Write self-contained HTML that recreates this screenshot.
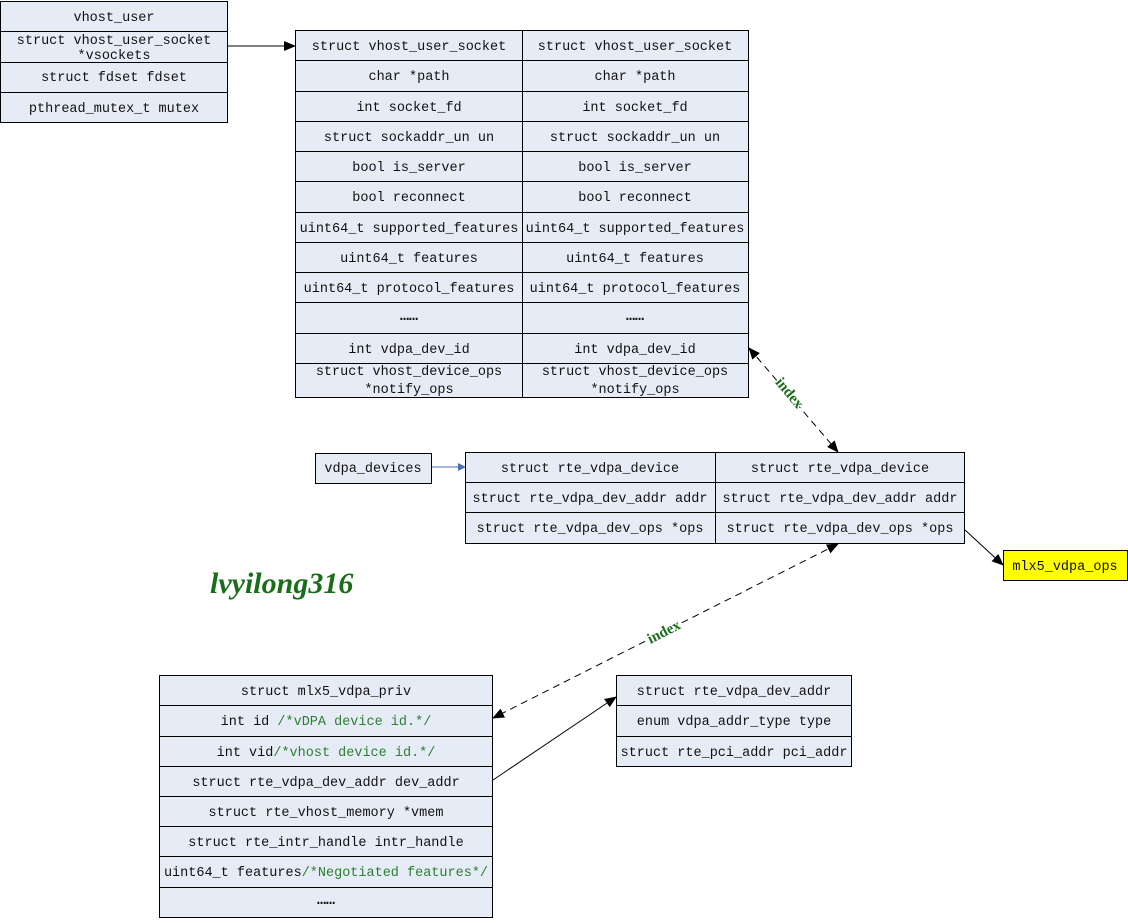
<!DOCTYPE html>
<html><head><meta charset="utf-8"><style>
html,body{margin:0;padding:0;background:#fff;}
svg text{font-family:"Liberation Mono","Noto Serif CJK SC",monospace;font-size:13.5px;fill:#111;}
svg text.dots{font-size:15px;font-weight:bold;}
</style></head><body>
<svg width="1128" height="918" viewBox="0 0 1128 918" xmlns="http://www.w3.org/2000/svg">
<defs>
<marker id="a" markerWidth="12" markerHeight="10" refX="11" refY="5" orient="auto" markerUnits="userSpaceOnUse"><path d="M0,0 L12,5 L0,10 z" fill="#000"/></marker>
<marker id="as" markerWidth="12" markerHeight="10" refX="1" refY="5" orient="auto" markerUnits="userSpaceOnUse"><path d="M12,0 L0,5 L12,10 z" fill="#000"/></marker>
<marker id="ab" markerWidth="8" markerHeight="8" refX="7" refY="4" orient="auto" markerUnits="userSpaceOnUse"><path d="M0,0 L8,4 L0,8 z" fill="#4a6fb0"/></marker>
</defs>
<g fill="#e6ecf6" stroke="#000" stroke-width="1">
<rect x="0.5" y="1.5" width="227" height="30"/><rect x="0.5" y="31.5" width="227" height="31"/><rect x="0.5" y="62.5" width="227" height="30"/><rect x="0.5" y="92.5" width="227" height="30"/>
<rect x="295.5" y="30.5" width="227" height="30"/><rect x="522.5" y="30.5" width="226" height="30"/>
<rect x="295.5" y="60.5" width="227" height="31"/><rect x="522.5" y="60.5" width="226" height="31"/>
<rect x="295.5" y="91.5" width="227" height="30"/><rect x="522.5" y="91.5" width="226" height="30"/>
<rect x="295.5" y="121.5" width="227" height="30"/><rect x="522.5" y="121.5" width="226" height="30"/>
<rect x="295.5" y="151.5" width="227" height="30"/><rect x="522.5" y="151.5" width="226" height="30"/>
<rect x="295.5" y="181.5" width="227" height="31"/><rect x="522.5" y="181.5" width="226" height="31"/>
<rect x="295.5" y="212.5" width="227" height="30"/><rect x="522.5" y="212.5" width="226" height="30"/>
<rect x="295.5" y="242.5" width="227" height="30"/><rect x="522.5" y="242.5" width="226" height="30"/>
<rect x="295.5" y="272.5" width="227" height="30"/><rect x="522.5" y="272.5" width="226" height="30"/>
<rect x="295.5" y="302.5" width="227" height="31"/><rect x="522.5" y="302.5" width="226" height="31"/>
<rect x="295.5" y="333.5" width="227" height="30"/><rect x="522.5" y="333.5" width="226" height="30"/>
<rect x="295.5" y="363.5" width="227" height="34"/><rect x="522.5" y="363.5" width="226" height="34"/>
<rect x="315.5" y="453.5" width="116" height="30"/>
<rect x="465.5" y="452.5" width="250" height="30"/><rect x="715.5" y="452.5" width="249" height="30"/>
<rect x="465.5" y="482.5" width="250" height="30"/><rect x="715.5" y="482.5" width="249" height="30"/>
<rect x="465.5" y="512.5" width="250" height="31"/><rect x="715.5" y="512.5" width="249" height="31"/>
<rect x="159.5" y="675.5" width="333" height="30"/><rect x="159.5" y="705.5" width="333" height="31"/>
<rect x="159.5" y="736.5" width="333" height="30"/><rect x="159.5" y="766.5" width="333" height="30"/>
<rect x="159.5" y="796.5" width="333" height="30"/><rect x="159.5" y="826.5" width="333" height="30"/>
<rect x="159.5" y="856.5" width="333" height="31"/><rect x="159.5" y="887.5" width="333" height="30"/>
<rect x="616.5" y="675.5" width="235" height="30"/><rect x="616.5" y="705.5" width="235" height="31"/><rect x="616.5" y="736.5" width="235" height="30"/>
</g>
<rect x="1003.5" y="550.5" width="124" height="30" fill="#ffff00" stroke="#000"/>

<g text-anchor="middle">
<text x="114" y="21">vhost_user</text>
<text x="114" y="44">struct vhost_user_socket</text>
<text x="114" y="59">*vsockets</text>
<text x="114" y="81">struct fdset fdset</text>
<text x="114" y="112">pthread_mutex_t mutex</text>

<text x="409" y="50">struct vhost_user_socket</text><text x="635" y="50">struct vhost_user_socket</text>
<text x="409" y="80">char *path</text><text x="635" y="80">char *path</text>
<text x="409" y="111">int socket_fd</text><text x="635" y="111">int socket_fd</text>
<text x="409" y="141">struct sockaddr_un un</text><text x="635" y="141">struct sockaddr_un un</text>
<text x="409" y="171">bool is_server</text><text x="635" y="171">bool is_server</text>
<text x="409" y="201">bool reconnect</text><text x="635" y="201">bool reconnect</text>
<text x="409" y="232">uint64_t supported_features</text><text x="635" y="232">uint64_t supported_features</text>
<text x="409" y="262">uint64_t features</text><text x="635" y="262">uint64_t features</text>
<text x="409" y="292">uint64_t protocol_features</text><text x="635" y="292">uint64_t protocol_features</text>
<text class="dots" x="409" y="320">……</text><text class="dots" x="635" y="320">……</text>
<text x="409" y="353">int vdpa_dev_id</text><text x="635" y="353">int vdpa_dev_id</text>
<text x="409" y="375">struct vhost_device_ops</text><text x="635" y="375">struct vhost_device_ops</text>
<text x="409" y="393">*notify_ops</text><text x="635" y="393">*notify_ops</text>

<text x="373" y="472">vdpa_devices</text>
<text x="590" y="472">struct rte_vdpa_device</text><text x="840" y="472">struct rte_vdpa_device</text>
<text x="590" y="502">struct rte_vdpa_dev_addr addr</text><text x="840" y="502">struct rte_vdpa_dev_addr addr</text>
<text x="590" y="532">struct rte_vdpa_dev_ops *ops</text><text x="840" y="532">struct rte_vdpa_dev_ops *ops</text>
<text x="1065" y="570">mlx5_vdpa_ops</text>

<text x="326" y="695">struct mlx5_vdpa_priv</text>
<text x="326" y="725">int id <tspan style="fill:#2e7d32">/*vDPA device id.*/</tspan></text>
<text x="326" y="756">int vid<tspan style="fill:#2e7d32">/*vhost device id.*/</tspan></text>
<text x="326" y="786">struct rte_vdpa_dev_addr dev_addr</text>
<text x="326" y="816">struct rte_vhost_memory *vmem</text>
<text x="326" y="846">struct rte_intr_handle intr_handle</text>
<text x="326" y="876">uint64_t features<tspan style="fill:#2e7d32">/*Negotiated features*/</tspan></text>
<text class="dots" x="326" y="904">……</text>

<text x="734" y="695">struct rte_vdpa_dev_addr</text>
<text x="734" y="725">enum vdpa_addr_type type</text>
<text x="734" y="756">struct rte_pci_addr pci_addr</text>
</g>

<text x="210" y="593" style="font-family:'Liberation Serif',serif;font-size:30px;font-weight:bold;font-style:italic;fill:#1a6e1a">lvyilong316</text>

<g stroke="#000" fill="none">
<line x1="228" y1="46" x2="295" y2="46" marker-end="url(#a)"/>
<line x1="432" y1="467" x2="465" y2="467" stroke="#4a6fb0" marker-end="url(#ab)"/>
<line x1="965" y1="530" x2="1003" y2="565" marker-end="url(#a)"/>
<line x1="493" y1="780" x2="616" y2="697" marker-end="url(#a)"/>
<line x1="749" y1="348" x2="838" y2="452" stroke-dasharray="7,5" marker-start="url(#as)" marker-end="url(#a)"/>
<line x1="838" y1="544" x2="493" y2="718" stroke-dasharray="7,5" marker-start="url(#as)" marker-end="url(#a)"/>
</g>
<text transform="translate(786,396) rotate(50)" text-anchor="middle" style="font-family:'Liberation Serif',serif;font-size:15px;font-weight:bold;fill:#1a6e1a;stroke:#fff;stroke-width:3;paint-order:stroke">index</text>
<text transform="translate(666,636) rotate(-27)" text-anchor="middle" style="font-family:'Liberation Serif',serif;font-size:15px;font-weight:bold;fill:#1a6e1a;stroke:#fff;stroke-width:3;paint-order:stroke">index</text>
</svg>
</body></html>
